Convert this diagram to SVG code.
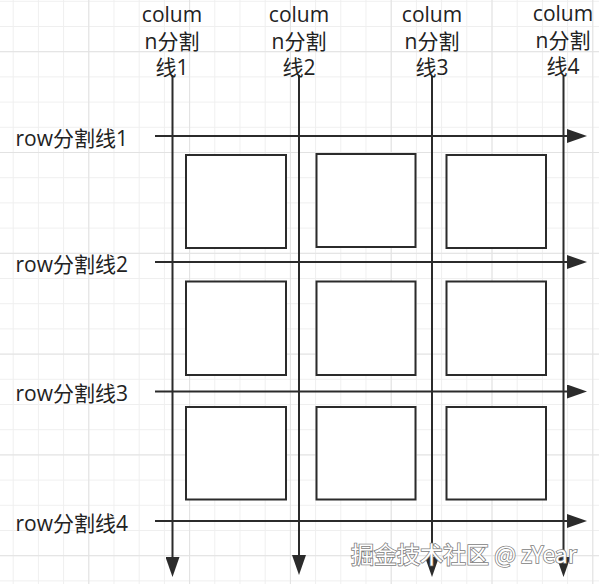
<svg xmlns="http://www.w3.org/2000/svg" width="599" height="584" viewBox="0 0 599 584">
  <style>
    .lbl { font-family: "Open Sans", "Noto Sans CJK SC", sans-serif; font-size: 21px; fill: #222; }
    .col { text-anchor: middle; }
    .box { fill: #ffffff; stroke: #2b2b2b; stroke-width: 2; }
    .conn { stroke: #2b2b2b; stroke-width: 2; fill: none; }
    .gmin { stroke: #efefef; stroke-width: 1; }
    .gmaj { stroke: #e2e2e2; stroke-width: 1; }
    .wm { font-family: "Noto Sans CJK SC", "Open Sans", sans-serif; font-size: 23px; fill: #ffffff; stroke: #808080; stroke-width: 1.6; paint-order: stroke; }
  </style>
  <defs>
    <pattern id="gridMinor" x="12.7" y="0.8" width="25.2" height="25.2" patternUnits="userSpaceOnUse">
      <path d="M0.5,0 V25.2 M0,0.5 H25.2" class="gmin"/>
    </pattern>
    <pattern id="gridMajor" x="88.3" y="51.2" width="100.8" height="100.8" patternUnits="userSpaceOnUse">
      <path d="M0.5,0 V100.8 M0,0.5 H100.8" class="gmaj"/>
    </pattern>
    <marker id="arrow" markerWidth="10" markerHeight="7" refX="5" refY="3.5" orient="auto" markerUnits="strokeWidth">
      <path d="M0,0 L10,3.5 L0,7 Z" fill="#2b2b2b"/>
    </marker>
  </defs>

  <rect width="599" height="584" fill="#ffffff"/>
  <rect width="599" height="584" fill="url(#gridMinor)"/>
  <rect width="599" height="584" fill="url(#gridMajor)"/>

  <g id="connectors">
    <line class="conn" x1="172.5" y1="75" x2="172.5" y2="567" marker-end="url(#arrow)"/>
    <line class="conn" x1="299" y1="75" x2="299" y2="565" marker-end="url(#arrow)"/>
    <line class="conn" x1="432" y1="76" x2="432" y2="567" marker-end="url(#arrow)"/>
    <line class="conn" x1="563.5" y1="76" x2="563.5" y2="567" marker-end="url(#arrow)"/>
    <line class="conn" x1="155" y1="136" x2="577" y2="136" marker-end="url(#arrow)"/>
    <line class="conn" x1="155" y1="262" x2="577" y2="262" marker-end="url(#arrow)"/>
    <line class="conn" x1="155" y1="391.5" x2="577" y2="391.5" marker-end="url(#arrow)"/>
    <line class="conn" x1="155" y1="521" x2="577" y2="521" marker-end="url(#arrow)"/>
  </g>

  <g id="cell-1-1"><rect class="box" x="186" y="155" width="100" height="93"/></g>
  <g id="cell-1-2"><rect class="box" x="316.5" y="154" width="99" height="93"/></g>
  <g id="cell-1-3"><rect class="box" x="446.5" y="155" width="99.5" height="93"/></g>
  <g id="cell-2-1"><rect class="box" x="186" y="281.5" width="100" height="93.5"/></g>
  <g id="cell-2-2"><rect class="box" x="316.5" y="281.5" width="99" height="93.5"/></g>
  <g id="cell-2-3"><rect class="box" x="446.5" y="281.5" width="99.5" height="93.5"/></g>
  <g id="cell-3-1"><rect class="box" x="186" y="407" width="100" height="92.5"/></g>
  <g id="cell-3-2"><rect class="box" x="316.5" y="407" width="99" height="92.5"/></g>
  <g id="cell-3-3"><rect class="box" x="446.5" y="407" width="99.5" height="92.5"/></g>

  <g id="label-col1"><text class="lbl col" x="172" y="22">colum</text><text class="lbl col" x="172" y="49">n分割</text><text class="lbl col" x="172" y="75">线1</text></g>
  <g id="label-col2"><text class="lbl col" x="299" y="22">colum</text><text class="lbl col" x="299" y="49">n分割</text><text class="lbl col" x="299" y="75">线2</text></g>
  <g id="label-col3"><text class="lbl col" x="432" y="22">colum</text><text class="lbl col" x="432" y="49">n分割</text><text class="lbl col" x="432" y="75">线3</text></g>
  <g id="label-col4"><text class="lbl col" x="563" y="21">colum</text><text class="lbl col" x="563" y="47.5">n分割</text><text class="lbl col" x="563" y="73.5">线4</text></g>

  <g id="label-row1"><text class="lbl" x="15.5" y="145.5">row分割线1</text></g>
  <g id="label-row2"><text class="lbl" x="15.5" y="271.5">row分割线2</text></g>
  <g id="label-row3"><text class="lbl" x="15.5" y="401">row分割线3</text></g>
  <g id="label-row4"><text class="lbl" x="15.5" y="530.5">row分割线4</text></g>

  <g id="watermark"><text class="wm" x="351" y="562.5">掘金技术社区 @ zYear</text></g>
</svg>
